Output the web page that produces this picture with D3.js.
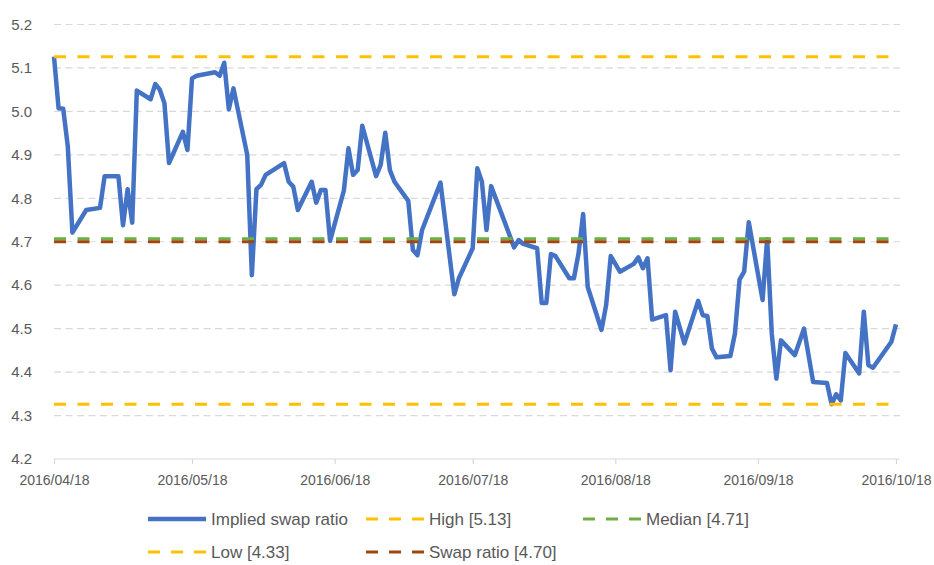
<html>
<script src='https://d3js.org/d3.v7.min.js'></script>
<style>
  body { margin: 0; background: #fff; }
  text { font-family: "Liberation Sans", Arial, sans-serif; fill: #595959; }
</style>
<body>
<svg width=934 height=565></svg>
<script>
// implied swap ratio, daily
var dates = [
  "2016-04-18","2016-04-19","2016-04-20","2016-04-21","2016-04-22","2016-04-25","2016-04-28","2016-04-29","2016-05-02","2016-05-03",
  "2016-05-04","2016-05-05","2016-05-06","2016-05-09","2016-05-10","2016-05-11","2016-05-12","2016-05-13","2016-05-16","2016-05-17",
  "2016-05-18","2016-05-19","2016-05-23","2016-05-24","2016-05-25","2016-05-26","2016-05-27","2016-05-30","2016-05-31","2016-06-01",
  "2016-06-02","2016-06-03","2016-06-07","2016-06-08","2016-06-09","2016-06-10","2016-06-13","2016-06-14","2016-06-15","2016-06-16",
  "2016-06-17","2016-06-20","2016-06-21","2016-06-22","2016-06-23","2016-06-24","2016-06-27","2016-06-28","2016-06-29","2016-06-30",
  "2016-07-01","2016-07-04","2016-07-05","2016-07-06","2016-07-07","2016-07-11","2016-07-12","2016-07-14","2016-07-15","2016-07-18",
  "2016-07-19","2016-07-20","2016-07-21","2016-07-22","2016-07-25","2016-07-27","2016-07-28","2016-07-29","2016-08-01","2016-08-02",
  "2016-08-03","2016-08-04","2016-08-05","2016-08-08","2016-08-09","2016-08-10","2016-08-11","2016-08-12","2016-08-15","2016-08-16",
  "2016-08-17","2016-08-19","2016-08-22","2016-08-23","2016-08-24","2016-08-25","2016-08-26","2016-08-29","2016-08-30","2016-08-31",
  "2016-09-02","2016-09-05","2016-09-06","2016-09-07","2016-09-08","2016-09-09","2016-09-12","2016-09-13","2016-09-14","2016-09-15",
  "2016-09-16","2016-09-19","2016-09-20","2016-09-21","2016-09-22","2016-09-23","2016-09-26","2016-09-28","2016-09-30","2016-10-03",
  "2016-10-04","2016-10-05","2016-10-06","2016-10-07","2016-10-10","2016-10-11","2016-10-12","2016-10-13","2016-10-17","2016-10-18"
];
var ratios = [
  5.126,5.007,5.006,4.919,4.721,4.773,4.778,4.851,4.851,4.738,
  4.821,4.744,5.048,5.028,5.063,5.050,5.019,4.881,4.953,4.911,
  5.076,5.082,5.090,5.082,5.112,5.005,5.053,4.900,4.623,4.821,
  4.831,4.854,4.881,4.838,4.827,4.773,4.838,4.790,4.819,4.819,
  4.702,4.818,4.915,4.854,4.865,4.967,4.851,4.877,4.951,4.865,
  4.838,4.794,4.681,4.669,4.727,4.836,4.750,4.579,4.616,4.685,
  4.869,4.838,4.727,4.828,4.744,4.687,4.704,4.695,4.685,4.559,
  4.559,4.672,4.667,4.616,4.616,4.673,4.764,4.596,4.497,4.554,
  4.667,4.631,4.649,4.664,4.639,4.662,4.521,4.531,4.404,4.539,
  4.466,4.564,4.531,4.529,4.454,4.434,4.437,4.489,4.613,4.631,
  4.745,4.566,4.706,4.489,4.385,4.473,4.439,4.500,4.377,4.375,
  4.326,4.349,4.335,4.444,4.397,4.539,4.416,4.410,4.470,4.510
];

// horizontal reference lines
var refNames  = ["High", "Median", "Low", "Swap ratio"];
var refValues = [5.126, 4.707, 4.326, 4.70];
var refColors = ["#FFC000", "#70AD47", "#FFC000", "#9E480E"];

var yTicks = [4.2, 4.3, 4.4, 4.5, 4.6, 4.7, 4.8, 4.9, 5.0, 5.1, 5.2];
var xTicks = ["2016-04-18","2016-05-18","2016-06-18","2016-07-18","2016-08-18","2016-09-18","2016-10-18"];

var parse = d3.timeParse("%Y-%m-%d");
var svg = d3.select("svg");

var left = 54, right = 896, gridEnd = 900;
var x = d3.scaleTime().domain([parse(xTicks[0]), parse(xTicks[xTicks.length-1])]).range([left, right]);
var y = d3.scaleLinear().domain([4.2, 5.2]).range([459, 24.5]);

// gridlines
svg.append("g").selectAll("line").data(yTicks.slice(1)).enter().append("line")
  .attr("x1", left).attr("x2", gridEnd)
  .attr("y1", d => y(d)).attr("y2", d => y(d))
  .attr("stroke", "#D9D9D9").attr("stroke-width", 1.2).attr("stroke-dasharray", "7,4.5");

// x axis
var xAxis = svg.append("g").attr("transform", "translate(0," + y(4.2) + ")")
  .call(d3.axisBottom(x).tickValues(xTicks.map(parse)).tickFormat(d3.timeFormat("%Y/%m/%d")).tickSize(5).tickSizeOuter(0));
xAxis.select(".domain").remove();
xAxis.append("line").attr("x1", left).attr("x2", gridEnd).attr("stroke", "#D9D9D9").attr("stroke-width", 1.2);
xAxis.selectAll(".tick line").attr("stroke", "#D9D9D9").attr("stroke-width", 1.2);
xAxis.selectAll(".tick text").attr("fill", "#595959").style("font-size", "14px").attr("y", 16)
  .style("font-family", "'Liberation Sans', Arial, sans-serif");

// y labels
svg.append("g").selectAll("text").data(yTicks).enter().append("text")
  .attr("x", 32).attr("y", d => y(d)).attr("dy", "0.35em")
  .attr("text-anchor", "end").style("font-size", "15px")
  .text(d => d3.format(".1f")(d));

// implied swap ratio line
var series = dates.map((d, i) => ({date: parse(d), v: ratios[i]}));
svg.append("path").datum(series)
  .attr("fill", "none").attr("stroke", "#4472C4").attr("stroke-width", 4.5)
  .attr("stroke-linejoin", "round")
  .attr("d", d3.line().x(d => x(d.date)).y(d => y(d.v)));

// reference lines
svg.append("g").selectAll("line").data(refValues).enter().append("line")
  .attr("x1", left).attr("x2", gridEnd)
  .attr("y1", d => y(d)).attr("y2", d => y(d))
  .attr("stroke", (d, i) => refColors[i]).attr("stroke-width", 3)
  .attr("stroke-dasharray", "12,11.5");

// legend
var fmt = d3.format(".2f");
var legend = [
  {name: "Implied swap ratio", color: "#4472C4", dash: null, w: 4.5, lx: 148, ly: 519},
  {name: refNames[0] + " [" + fmt(refValues[0]) + "]", color: refColors[0], dash: "12,11", w: 3, lx: 366, ly: 519},
  {name: refNames[1] + " [" + fmt(refValues[1]) + "]", color: refColors[1], dash: "12,11", w: 3, lx: 583, ly: 519},
  {name: refNames[2] + " [" + fmt(refValues[2]) + "]", color: refColors[2], dash: "12,11", w: 3, lx: 148, ly: 552},
  {name: refNames[3] + " [" + fmt(refValues[3]) + "]", color: refColors[3], dash: "12,11", w: 3, lx: 366, ly: 552}
];
var lg = svg.append("g").selectAll("g").data(legend).enter().append("g")
  .attr("transform", d => "translate(" + d.lx + "," + d.ly + ")");
lg.append("line").attr("x1", 0).attr("x2", 58)
  .attr("stroke", d => d.color).attr("stroke-width", d => d.w)
  .attr("stroke-dasharray", d => d.dash);
lg.append("text").attr("x", 63).attr("dy", "0.35em").style("font-size", "17px").text(d => d.name);
</script>
</body>
</html>
